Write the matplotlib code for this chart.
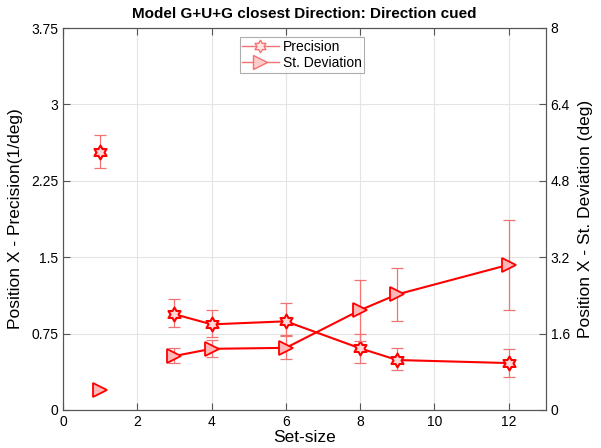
import numpy as np
import matplotlib.pyplot as plt
from matplotlib.path import Path
from matplotlib.lines import Line2D

plt.rcParams['font.family'] = ['Liberation Sans', 'DejaVu Sans']

# set sizes; NaN at 2 breaks the line between the single-item point and the rest
set_size = [1, 2, 3, 4, 6, 8, 9, 12]

precision = [2.53, np.nan, 0.94, 0.84, 0.87, 0.605, 0.49, 0.46]
precision_lo = [2.375, np.nan, 0.81, 0.72, 0.73, 0.46, 0.39, 0.32]
precision_hi = [2.70, np.nan, 1.09, 0.98, 1.05, 0.75, 0.605, 0.60]

st_dev = [0.41, np.nan, 1.13, 1.28, 1.30, 2.09, 2.42, 3.04]
st_dev_lo = [np.nan, np.nan, 0.98, 1.10, 1.06, 1.44, 1.87, 2.09]
st_dev_hi = [np.nan, np.nan, 1.29, 1.47, 1.57, 2.72, 2.97, 3.98]

left_ticks = [0, 0.75, 1.5, 2.25, 3, 3.75]
right_ticks = [0, 1.6, 3.2, 4.8, 6.4, 8]
x_ticks = [0, 2, 4, 6, 8, 10, 12]

red = (1.0, 0.0, 0.0)
err_red = (0.95, 0.45, 0.45)
hexagram = Path.unit_regular_star(6, innerCircle=1 / np.sqrt(3))

fig = plt.figure(figsize=(6.01, 4.48), dpi=100)
ax = fig.add_axes([0.105, 0.085, 0.803, 0.8525])
ax2 = ax.twinx()

p = np.array(precision)
ax.errorbar(set_size, precision,
            yerr=[p - np.array(precision_lo), np.array(precision_hi) - p],
            fmt='none', ecolor=err_red, elinewidth=0.9, capsize=4, capthick=0.9)
ax.plot(set_size, precision, color=red, lw=1.5, marker=hexagram, ms=10,
        mfc=(1, 0.85, 0.85), mec=red, mew=1.5)

s = np.array(st_dev)
ax2.errorbar(set_size, st_dev,
             yerr=[s - np.array(st_dev_lo), np.array(st_dev_hi) - s],
             fmt='none', ecolor=err_red, elinewidth=0.9, capsize=4, capthick=0.9)
ax2.plot(set_size, st_dev, color=red, lw=1.5, marker='>', ms=10,
         mfc=(1, 0.72, 0.72), mec=red, mew=1.3)

ax.set_xlim(0, 13)
ax.set_ylim(0, 3.75)
ax2.set_ylim(0, 8)
ax.set_xticks(x_ticks)
ax.set_yticks(left_ticks)
ax.set_yticklabels(['0', '0.75', '1.5', '2.25', '3', '3.75'])
ax2.set_yticks(right_ticks)
ax2.set_yticklabels(['0', '1.6', '3.2', '4.8', '6.4', '8'])

ax.grid(True, color='#e4e4e4', lw=0.8)
ax.set_axisbelow(True)
ax.tick_params(direction='in', top=True, labelsize=10, length=5, color='#555555')
ax2.tick_params(direction='in', labelsize=10, length=5, color='#555555')
for a in (ax, ax2):
    for sp in a.spines.values():
        sp.set_color('#555555')

ax.set_xlabel('Set-size', fontsize=12.5, labelpad=1)
ax.set_ylabel('Position X - Precision(1/deg)', fontsize=12.5, labelpad=6)
ax2.set_ylabel('Position X - St. Deviation (deg)', fontsize=12.5, labelpad=6)
ax.set_title('Model G+U+G closest Direction: Direction cued',
             fontsize=11, fontweight='bold', pad=7)

handles = [
    Line2D([], [], color=err_red, lw=1, marker=hexagram, ms=9,
           mfc=(1, 0.9, 0.9), mec=err_red),
    Line2D([], [], color=err_red, lw=1, marker='>', ms=10,
           mfc=(1, 0.8, 0.8), mec=err_red),
]
leg = ax2.legend(handles, ['Precision', 'St. Deviation'], loc='upper center',
                 bbox_to_anchor=(0.495, 0.976), fontsize=10, frameon=True,
                 fancybox=False, edgecolor='#999999', handlelength=2.6,
                 borderpad=0.2, labelspacing=0.15, handletextpad=0.3,
                 borderaxespad=0)
leg.get_frame().set_linewidth(0.8)

fig.savefig('out.png', dpi=100)
